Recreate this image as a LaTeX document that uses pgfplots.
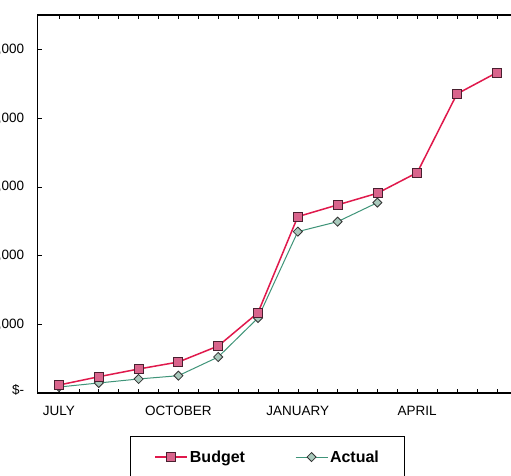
\documentclass[border=0pt]{standalone}
\usepackage{pgfplots}
\pgfplotsset{compat=1.18}
\usepackage{fontspec}
\setmainfont{Liberation Sans}
\definecolor{budgetline}{HTML}{E0194C}
\definecolor{budgetfill}{HTML}{D9648C}
\definecolor{budgetedge}{HTML}{4A2030}
\definecolor{actualline}{HTML}{3F9479}
\definecolor{actualfill}{HTML}{A9C9BC}
\definecolor{actualedge}{HTML}{333333}
\begin{document}
\begin{tikzpicture}
\useasboundingbox (0,0) rectangle (511pt,-476pt);
\clip (0,0) rectangle (511pt,-476pt);
\fill[white] (0,0) rectangle (511pt,-476pt);
\begin{axis}[
  at={(37.7pt,-393pt)}, anchor=south west,
  scale only axis, width=480.4pt, height=378pt,
  xmin=-0.535, xmax=11.535, ymin=0, ymax=5.5,
  axis line style={black, line width=1.2pt},
  xtick={0,...,11},
  xticklabels={JULY,,,OCTOBER,,,JANUARY,,,APRIL,,},
  minor x tick num=1,
  ytick={0,...,5},
  yticklabels={{\raisebox{8pt}{\$-}},{\$ 10,000},{\$ 20,000},{\$ 30,000},{\$ 40,000},{\$ 50,000}},
  tick align=inside,
  major tick length=4pt, minor tick length=4pt,
  tick style={black, line width=0.6pt},
  xticklabel style={font=\fontsize{13.5}{16}\selectfont, yshift=-10pt},
  yticklabel style={font=\fontsize{13.5}{16}\selectfont, xshift=-10pt},
  legend columns=2,
  reverse legend,
  legend style={
    at={(0.192,-0.1138)}, anchor=north west,
    draw=black, line width=1pt,
    fill=white,
    font=\bfseries\fontsize{16}{19}\selectfont,
    inner xsep=24pt, inner ysep=12pt,
    nodes={inner sep=2pt},
    /tikz/every even column/.append style={column sep=48pt},
  },
  legend image code/.code={
    \draw[mark repeat=2, mark phase=2, #1] plot coordinates {(0pt,0pt) (16pt,0pt) (32pt,0pt)};
  },
]
\addplot[color=actualline, line width=1pt, mark=square*, mark size=3.2pt,
  mark options={fill=actualfill, draw=actualedge, line width=0.8pt, rotate=45}]
  coordinates {(0,0.087) (1,0.146) (2,0.204) (3,0.252) (4,0.524) (5,1.092) (6,2.348) (7,2.493) (8,2.770)};
\addlegendentry{Actual}
\addplot[color=budgetline, line width=1.5pt, mark=square*, mark size=4.5pt,
  mark options={fill=budgetfill, draw=budgetedge, line width=0.8pt}]
  coordinates {(0,0.116) (1,0.237) (2,0.349) (3,0.451) (4,0.684) (5,1.169) (6,2.566) (7,2.737) (8,2.907) (9,3.207) (10,4.352) (11,4.662)};
\addlegendentry{Budget}
\end{axis}
\end{tikzpicture}
\end{document}
